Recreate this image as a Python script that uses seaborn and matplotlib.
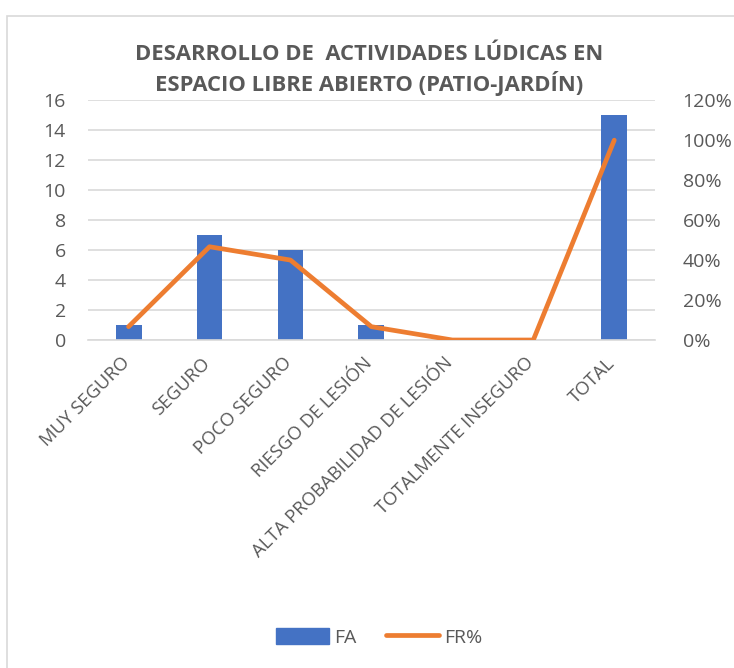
import matplotlib
matplotlib.use("Agg")
import matplotlib.pyplot as plt
import matplotlib.patches as mpatches
from matplotlib.lines import Line2D
from matplotlib.ticker import FuncFormatter
from matplotlib.transforms import ScaledTranslation
import numpy as np
import pandas as pd
import seaborn as sns

# Data
categories = [
    "MUY SEGURO",
    "SEGURO",
    "POCO SEGURO",
    "RIESGO DE LESIÓN",
    "ALTA PROBABILIDAD DE LESIÓN",
    "TOTALMENTE INSEGURO",
    "TOTAL",
]
fa = [1, 7, 6, 1, 0, 0, 15]
fr_pct = [6.67, 46.67, 40.0, 6.67, 0.0, 0.0, 100.0]

title = "DESARROLLO DE  ACTIVIDADES LÚDICAS EN\nESPACIO LIBRE ABIERTO (PATIO-JARDÍN)"

sns.set_style("white")
plt.rcParams["font.family"] = ["Open Sans", "DejaVu Sans"]

blue = "#4472C4"
orange = "#ED7D31"
grey_text = "#595959"
grid_col = "#D9D9D9"

df = pd.DataFrame({"cat": categories, "FA": fa, "FR": fr_pct, "pos": np.arange(len(categories))})

fig = plt.figure(figsize=(7.34, 6.68), dpi=100)
ax = fig.add_axes([0.12, 0.491, 0.772, 0.359])

# chart frame like the spreadsheet border
fig.patches.append(mpatches.Rectangle((0.0095, -0.01), 1.0, 0.986, transform=fig.transFigure,
                                      fill=False, edgecolor="#D9D9D9", linewidth=1.2))

sns.barplot(data=df, x="cat", y="FA", color=blue, width=0.32, saturation=1, ax=ax,
            linewidth=0, zorder=2)
ax.set_ylim(0, 16)
ax.set_yticks(range(0, 17, 2))
ax.yaxis.grid(True, color=grid_col, linewidth=1.2, zorder=0)
ax.set_axisbelow(True)
ax.set_xlabel("")
ax.set_ylabel("")
for s in ax.spines.values():
    s.set_visible(False)
ax.spines["bottom"].set_visible(True)
ax.spines["bottom"].set_color(grid_col)
ax.spines["bottom"].set_linewidth(1.2)
ax.tick_params(axis="y", length=0, colors=grey_text, labelsize=14, pad=16)
ax.tick_params(axis="x", length=0, colors=grey_text, pad=10)
ax.set_xticks(range(len(categories)))
ax.set_xticklabels(categories, rotation=45, ha="right", rotation_mode="anchor", fontsize=13.3)
offset = ScaledTranslation(-6 / 72, 0, fig.dpi_scale_trans)
for lbl in ax.get_xticklabels():
    lbl.set_transform(lbl.get_transform() + offset)
ax.set_xlim(-0.5, len(categories) - 0.5)

ax2 = ax.twinx()
sns.lineplot(data=df, x="pos", y="FR", color=orange, linewidth=3.4, ax=ax2,
             solid_capstyle="round", solid_joinstyle="round")
ax2.set_ylim(0, 120)
ax2.set_yticks(range(0, 121, 20))
ax2.yaxis.set_major_formatter(FuncFormatter(lambda v, p: f"{int(v)}%"))
ax2.set_ylabel("")
ax2.tick_params(axis="y", length=0, colors=grey_text, labelsize=14, pad=20)
for s in ax2.spines.values():
    s.set_visible(False)
ax2.set_xlim(-0.5, len(categories) - 0.5)

fig.text(0.503, 0.895, title, ha="center", va="center", fontsize=15.8, fontweight="bold",
         color=grey_text, linespacing=1.3)

handles = [
    mpatches.Patch(color=blue, label="FA"),
    Line2D([0], [0], color=orange, linewidth=3.4, solid_capstyle="round", label="FR%"),
]
fig.legend(handles=handles, loc="center", bbox_to_anchor=(0.517, 0.046), ncol=2, frameon=False,
           fontsize=14, labelcolor=grey_text, handlelength=2.7, handleheight=0.9,
           columnspacing=1.5, handletextpad=0.3)

fig.savefig("out.png", dpi=100)
